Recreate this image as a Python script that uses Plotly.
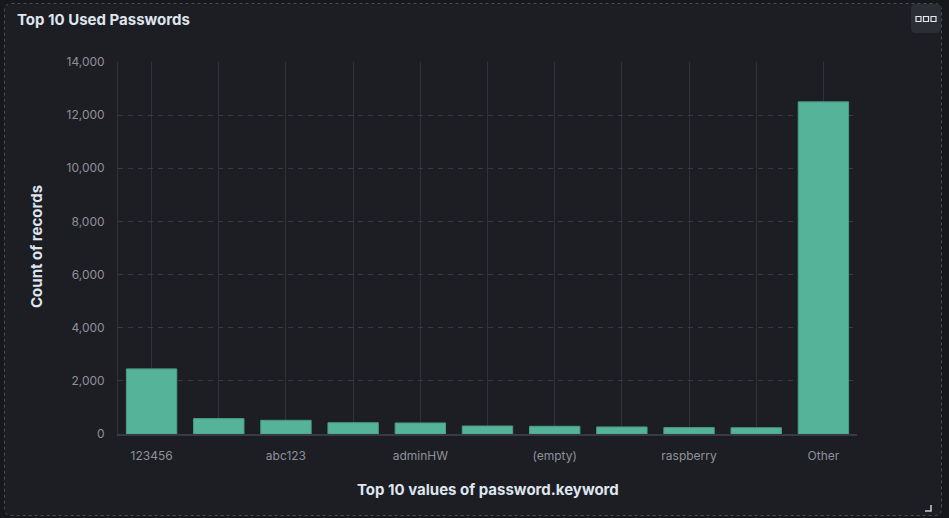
import plotly.graph_objects as go

# ---- data ----
categories = ["123456", "admin", "abc123", "password", "adminHW", "1234",
              "(empty)", "12345", "raspberry", "root", "Other"]
counts = [2450, 580, 515, 425, 415, 300, 290, 265, 240, 235, 12500]
shown_ticks = ["123456", "abc123", "adminHW", "(empty)", "raspberry", "Other"]
y_ticks = [0, 2000, 4000, 6000, 8000, 10000, 12000, 14000]

# ---- geometry (pixels) ----
FW, FH = 949, 518
L, R, T, B = 118, 92, 62, 84
PW, PH = FW - L - R, FH - T - B

def X(px):
    return (px - L) / PW

def Y(py):
    return (T + PH - py) / PH

INNER = "#1d1e24"
OUTER = "#17181c"
GRID = "#30323a"
HGRID = "#393b43"
TICK = "#8e9199"
TITLE = "#dfe5ef"
BAR = "#54b399"

tick_text = [c if c in shown_ticks else "" for c in categories]

fig = go.Figure(go.Bar(
    x=categories, y=counts,
    marker=dict(color=BAR, line=dict(color="#4a9c86", width=1)),
    width=0.75,
    hoverinfo="x+y",
))

def rrect(x0, y0, x1, y1, r):
    return (f"M {X(x0+r)},{Y(y0)} L {X(x1-r)},{Y(y0)} Q {X(x1)},{Y(y0)} {X(x1)},{Y(y0+r)} "
            f"L {X(x1)},{Y(y1-r)} Q {X(x1)},{Y(y1)} {X(x1-r)},{Y(y1)} "
            f"L {X(x0+r)},{Y(y1)} Q {X(x0)},{Y(y1)} {X(x0)},{Y(y1-r)} "
            f"L {X(x0)},{Y(y0+r)} Q {X(x0)},{Y(y0)} {X(x0+r)},{Y(y0)} Z")

shapes = [
    dict(type="path", xref="paper", yref="paper", path=rrect(4.5, 3.5, 941.5, 515.5, 7),
         fillcolor=INNER, line=dict(color="#4a4d56", width=1, dash="3px,3px"), layer="below"),
    # options button
    dict(type="path", xref="paper", yref="paper", path=rrect(911, 4, 941, 33, 5),
         fillcolor="#2c2e35", line=dict(width=0), layer="above"),
    # resize handle
    dict(type="path", xref="paper", yref="paper",
         path=f"M {X(925)},{Y(511)} L {X(931)},{Y(511)} L {X(931)},{Y(505)}",
         line=dict(color="#c8ccd4", width=1.5), layer="above"),
]
for cx in (918.5, 926, 933.5):
    shapes.append(dict(type="rect", xref="paper", yref="paper",
                       x0=X(cx - 2.5), x1=X(cx + 2.5), y0=Y(21.5), y1=Y(16.5),
                       line=dict(color="#e4e7ec", width=1.2), fillcolor="#2c2e35", layer="above"))

annotations = [
    dict(text="<b>Top 10 Used Passwords</b>", xref="paper", yref="paper",
         x=X(15), y=Y(19), xanchor="left", yanchor="middle", showarrow=False,
         font=dict(family="Inter", size=15, color=TITLE)),
    dict(text="<b>Count of records</b>", xref="paper", yref="paper",
         x=X(36), y=Y(247), xanchor="center", yanchor="middle", textangle=-90,
         showarrow=False, font=dict(family="Inter", size=15, color=TITLE)),
    dict(text="<b>Top 10 values of password.keyword</b>", xref="paper", yref="paper",
         x=X(488), y=Y(489), xanchor="center", yanchor="middle",
         showarrow=False, font=dict(family="Inter", size=15, color=TITLE)),
]

fig.update_layout(
    width=FW, height=FH,
    margin=dict(l=L, r=R, t=T, b=B),
    paper_bgcolor=OUTER,
    plot_bgcolor="rgba(0,0,0,0)",
    font=dict(family="Inter", size=12, color=TICK),
    bargap=0.25,
    showlegend=False,
    shapes=shapes,
    annotations=annotations,
    xaxis=dict(
        type="category",
        tickmode="array", tickvals=categories, ticktext=tick_text,
        showgrid=True, gridcolor=GRID, gridwidth=1,
        showline=True, linecolor=HGRID, linewidth=1.5,
        ticks="", ticklabelstandoff=10,
        tickfont=dict(family="Inter", size=12, color=TICK),
        range=[-0.5, 10.5], fixedrange=True,
    ),
    yaxis=dict(
        range=[0, 14000], tickvals=y_ticks, tickformat=",d",
        showgrid=True, gridcolor=HGRID, gridwidth=1, griddash="5px,5px",
        zeroline=False, showline=True, linecolor=GRID, linewidth=1,
        ticks="", ticklabelstandoff=10,
        tickfont=dict(family="Inter", size=12, color=TICK),
        fixedrange=True,
    ),
)

fig.write_html("out.html", config={"displayModeBar": False})
